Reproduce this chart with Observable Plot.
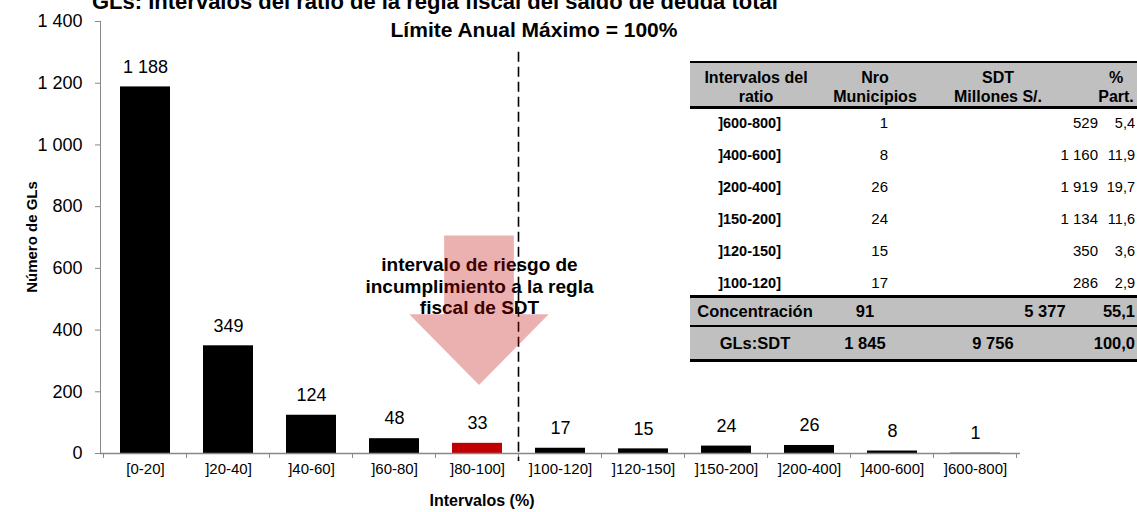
<!DOCTYPE html>
<html><head><meta charset="utf-8">
<script src="https://cdn.jsdelivr.net/npm/d3@7"></script>
<script src="https://cdn.jsdelivr.net/npm/@observablehq/plot@0.6"></script>
<style>
body{margin:0;background:#fff;font-family:Arial,"Liberation Sans",sans-serif;color:#000;}
#wrap{position:relative;width:1137px;height:512px;overflow:hidden;background:#fff;}
#wrap svg{position:absolute;left:0;top:0;}
.title{position:absolute;left:92px;top:-11px;font-weight:bold;font-size:22px;white-space:nowrap;}
.limite{position:absolute;left:334px;width:400px;top:18px;text-align:center;font-weight:bold;font-size:21px;line-height:24px;white-space:nowrap;}
.ylab{position:absolute;left:31px;top:237px;transform:translate(-50%,-50%) rotate(-90deg);font-weight:bold;font-size:15px;white-space:nowrap;}
.xlab{position:absolute;left:482px;top:501px;transform:translate(-50%,-50%);font-weight:bold;font-size:16px;white-space:nowrap;}
.cell{position:absolute;white-space:nowrap;line-height:20px;height:20px;}
.bg{position:absolute;left:690px;width:447px;background:#c0c0c0;}
.hl{position:absolute;left:690px;width:447px;background:#000;}
</style></head><body><div id="wrap"></div>
<script>
// ---- data ----
const categories = ["[0-20]","]20-40]","]40-60]","]60-80]","]80-100]","]100-120]","]120-150]","]150-200]","]200-400]","]400-600]","]600-800]"];
const counts = [1188,349,124,48,33,17,15,24,26,8,1];
const riskCategory = "]80-100]";
const limitCategory = "]100-120]";
const yTicks = [0,200,400,600,800,1000,1200,1400];

const titleText = "GLs: Intervalos del ratio de la regla fiscal del saldo de deuda total";
const limitText = "Límite Anual Máximo = 100%";
const riskText = "intervalo de riesgo de\nincumplimiento a la regla\nfiscal de SDT";
const yLabel = "Número de GLs";
const xLabel = "Intervalos (%)";

const tableHeader = [["Intervalos del","ratio"],["Nro","Municipios"],["SDT","Millones S/."],["%","Part."]];
const tableRanges = ["]600-800]","]400-600]","]200-400]","]150-200]","]120-150]","]100-120]"];
const tableMunicipios = [1,8,26,24,15,17];
const tableSDT = [529,1160,1919,1134,350,286];
const tablePart = [5.4,11.9,19.7,11.6,3.6,2.9];
const totalLabels = ["Concentración","GLs:SDT"];
const totalMunicipios = [91,1845];
const totalSDT = [5377,9756];
const totalPart = [55.1,100.0];

// annotation levels (data units)
const arrowLevels = {top:705, neck:450, tip:220};
const limitLineTop = 1300;

// ---- helpers ----
const fmt = d => d3.format(",")(d).replace(/,/g, "\u00a0");
const fmtPct = d => d3.format(".1f")(d).replace(".", ",");

const data = categories.map((c,i)=>({cat:c, n:counts[i]}));
const font = "Arial, 'Liberation Sans', sans-serif";

const chart = Plot.plot({
  width:1137, height:512,
  marginLeft:100, marginRight:117, marginTop:21, marginBottom:59,
  style:{fontFamily:font, background:"transparent", color:"#000"},
  x:{domain:categories, paddingInner:0.4, paddingOuter:0.2, label:null},
  y:{domain:[0,1400], label:null},
  marks:[
    Plot.barY(data.filter(d=>d.cat!==riskCategory),{x:"cat",y:"n",fill:"#000"}),
    Plot.barY(data.filter(d=>d.cat===riskCategory),{x:"cat",y:"n",fill:"#c00000"}),
    Plot.text(data,{x:"cat",y:"n",text:d=>fmt(d.n),dy:-20,fontSize:18,fill:"#000"}),
    Plot.text([riskText],{x:()=>riskCategory,y:()=>544,text:d=>d,fontSize:19,fontWeight:"bold",lineHeight:1.13,fill:"#000",dx:2}),
    Plot.axisY({ticks:yTicks,tickFormat:fmt,tickSize:5,tickPadding:13,fontSize:18,stroke:"#888",label:null}),
    Plot.axisX({tickSize:0,tickPadding:10,fontSize:15,label:null}),
    Plot.frame({anchor:"left",stroke:"#888"}),
    Plot.ruleY([0],{stroke:"#888",strokeWidth:1.5})
  ]
});

const wrap = document.getElementById("wrap");
wrap.appendChild(chart);

const xs = chart.scale("x"), ys = chart.scale("y");
const gap = (xs.step - xs.bandwidth)/2;
const bound = c => xs.apply(c) - gap;
const svg = d3.select(chart);
const y0 = ys.apply(0);

// boundary ticks on x axis
const bounds = categories.map(bound).concat([bound(categories[categories.length-1]) + xs.step]);
svg.append("g").selectAll("line").data(bounds).join("line")
  .attr("x1",d=>d).attr("x2",d=>d).attr("y1",y0).attr("y2",y0+5)
  .attr("stroke","#888");

// dashed limit line
const lx = bound(limitCategory);
svg.append("line").attr("x1",lx).attr("x2",lx)
  .attr("y1",ys.apply(limitLineTop)).attr("y2",y0+8)
  .attr("stroke","#000").attr("stroke-width",1.6).attr("stroke-dasharray","10,5");

// arrow (semi-transparent, over the text)
const cx = xs.apply(riskCategory) + xs.bandwidth/2 + 2;
const sw = xs.step*0.42, hw = xs.step*0.84;
const pts = [
  [cx-sw, ys.apply(arrowLevels.top)],[cx+sw, ys.apply(arrowLevels.top)],
  [cx+sw, ys.apply(arrowLevels.neck)],[cx+hw, ys.apply(arrowLevels.neck)],
  [cx, ys.apply(arrowLevels.tip)],
  [cx-hw, ys.apply(arrowLevels.neck)],[cx-sw, ys.apply(arrowLevels.neck)]
];
svg.append("polygon").attr("points",pts.map(p=>p.join(",")).join(" "))
  .attr("fill","#c00000").attr("fill-opacity",0.31);

// text overlays
function div(cls, txt){const e=document.createElement("div");e.className=cls;e.textContent=txt;wrap.appendChild(e);return e;}
div("title", titleText);
div("limite", limitText);
div("ylab", yLabel);
div("xlab", xLabel);

// ---- table (HTML overlay) ----
function box(cls, top, h){const e=document.createElement("div");e.className=cls;e.style.top=top+"px";e.style.height=h+"px";wrap.appendChild(e);}
box("bg",62,46); box("bg",297,64);
box("hl",61,2); box("hl",106,3); box("hl",295,3); box("hl",325,2); box("hl",359,3);
function cell(txt, x, yc, align, bold, size){
  const e=document.createElement("div"); e.className="cell"; e.textContent=txt;
  e.style.top=(yc-10)+"px"; e.style.fontSize=size+"px"; if(bold) e.style.fontWeight="bold";
  if(align==="center"){e.style.left=(x-100)+"px"; e.style.width="200px"; e.style.textAlign="center";}
  else {e.style.left=(x-200)+"px"; e.style.width="200px"; e.style.textAlign="right";}
  wrap.appendChild(e);
}
const hdrX=[756,875,998,1116];
tableHeader.forEach((h,i)=>{cell(h[0],hdrX[i],78,"center",true,16); cell(h[1],hdrX[i],97,"center",true,16);});
tableRanges.forEach((r,i)=>{
  const yc=123+32*i;
  cell(r,781,yc,"right",true,14.5);
  cell(fmt(tableMunicipios[i]),888,yc,"right",false,15);
  cell(fmt(tableSDT[i]),1098,yc,"right",false,15);
  cell(fmtPct(tablePart[i]),1135,yc,"right",false,14.5);
});
const totY=[311,343], totSdtX=[1045,993];
totalLabels.forEach((l,i)=>{
  cell(l,755,totY[i],"center",true,16.5);
  cell(fmt(totalMunicipios[i]),865,totY[i],"center",true,16.5);
  cell(fmt(totalSDT[i]),totSdtX[i],totY[i],"center",true,16.5);
  cell(fmtPct(totalPart[i]),1135,totY[i],"right",true,16.5);
});
</script>
</body></html>
